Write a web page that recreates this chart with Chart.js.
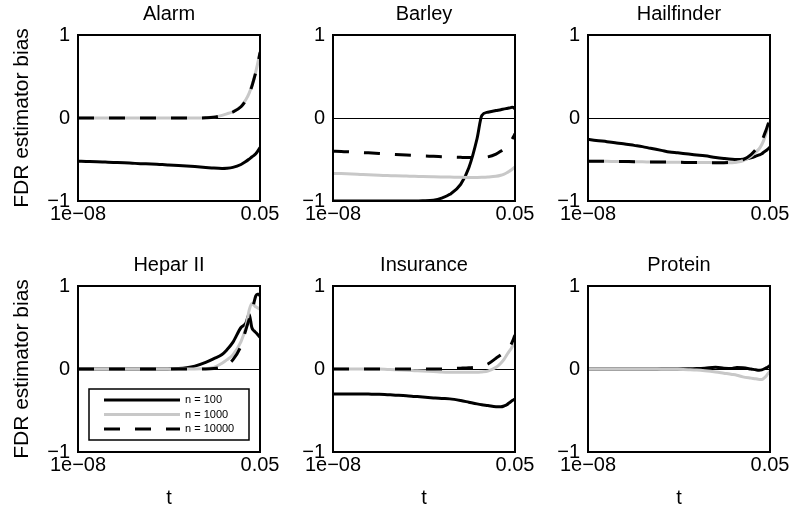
<!DOCTYPE html>
<html><head><meta charset="utf-8">
<script src="https://cdn.jsdelivr.net/npm/chart.js@4/dist/chart.umd.min.js"></script>
<style>
html,body{margin:0;padding:0;background:#fff;}
#wrap{position:relative;width:795px;height:518px;overflow:hidden;background:#fff;}
canvas{position:absolute;}
</style></head><body><div id="wrap"></div>
<script>
// ---- data ----
const tValues = [1e-8, 2e-8, 5e-8, 1e-7, 2e-7, 5e-7, 1e-6, 2e-6, 5e-6, 1e-5, 2e-5, 5e-5, 1e-4, 2e-4, 5e-4, 1e-3, 2e-3, 3e-3, 5e-3, 0.01, 0.015, 0.02, 0.025, 0.03, 0.035, 0.04, 0.045, 0.05];
const seriesLabels = ['n = 100', 'n = 1000', 'n = 10000'];
const panelTitles = ['Alarm', 'Barley', 'Hailfinder', 'Hepar II', 'Insurance', 'Protein'];
const xTickValues = [1e-8, 0.05];
const xTickLabels = ['1e\u221208', '0.05'];
const yTickValues = [-1, 0, 1];
const yTickLabels = ['\u22121', '0', '1'];

const alarmN100   = [-0.52,-0.523,-0.527,-0.531,-0.535,-0.54,-0.545,-0.55,-0.555,-0.56,-0.565,-0.572,-0.578,-0.585,-0.595,-0.603,-0.607,-0.605,-0.595,-0.56,-0.525,-0.495,-0.47,-0.45,-0.43,-0.405,-0.38,-0.355];
const alarmN1000  = [0,0,0,0,0,0,0,0,0,0,0,0,0,0,0.004,0.012,0.032,0.05,0.075,0.14,0.22,0.3,0.39,0.48,0.56,0.64,0.72,0.8];
const alarmN10000 = [0,0,0,0,0,0,0,0,0,0,0,0,0,0,0.003,0.01,0.03,0.048,0.072,0.135,0.21,0.29,0.38,0.47,0.55,0.63,0.71,0.79];

const barleyN100   = [-1,-1,-1,-1,-1,-1,-1,-1,-1,-1,-0.998,-0.99,-0.965,-0.92,-0.8,-0.6,-0.25,0.03,0.07,0.09,0.1,0.11,0.115,0.12,0.125,0.13,0.125,0.11];
const barleyN1000  = [-0.668,-0.67,-0.675,-0.68,-0.685,-0.69,-0.693,-0.697,-0.7,-0.702,-0.705,-0.708,-0.71,-0.712,-0.715,-0.716,-0.716,-0.715,-0.712,-0.703,-0.69,-0.675,-0.66,-0.645,-0.63,-0.615,-0.6,-0.588];
const barleyN10000 = [-0.4,-0.403,-0.41,-0.415,-0.42,-0.428,-0.435,-0.44,-0.447,-0.452,-0.457,-0.462,-0.466,-0.47,-0.474,-0.476,-0.476,-0.474,-0.468,-0.435,-0.4,-0.37,-0.34,-0.31,-0.28,-0.25,-0.22,-0.19];

const hailN100   = [-0.256,-0.27,-0.285,-0.298,-0.31,-0.33,-0.345,-0.365,-0.39,-0.41,-0.42,-0.435,-0.445,-0.455,-0.475,-0.487,-0.497,-0.5,-0.497,-0.478,-0.46,-0.445,-0.43,-0.41,-0.395,-0.38,-0.365,-0.348];
const hailN1000  = [-0.52,-0.521,-0.522,-0.524,-0.525,-0.527,-0.528,-0.53,-0.532,-0.533,-0.534,-0.535,-0.536,-0.537,-0.538,-0.54,-0.538,-0.532,-0.515,-0.46,-0.41,-0.37,-0.32,-0.26,-0.2,-0.14,-0.09,-0.04];
const hailN10000 = [-0.52,-0.52,-0.522,-0.523,-0.525,-0.526,-0.528,-0.53,-0.531,-0.532,-0.534,-0.535,-0.536,-0.537,-0.538,-0.538,-0.535,-0.525,-0.505,-0.44,-0.38,-0.33,-0.28,-0.21,-0.155,-0.1,-0.05,0.01];

const heparN100   = [0,0,0,0,0,0,0,0,0,0,0,0.005,0.015,0.035,0.08,0.125,0.175,0.23,0.32,0.5,0.55,0.66,0.5,0.46,0.44,0.42,0.4,0.38];
const heparN1000  = [0,0,0,0,0,0,0,0,0,0,0,0,0,0,0.005,0.02,0.07,0.11,0.17,0.33,0.5,0.71,0.79,0.77,0.75,0.74,0.73,0.72];
const heparN10000 = [0,0,0,0,0,0,0,0,0,0,0,0,0,0,0,0.005,0.025,0.05,0.11,0.28,0.47,0.6,0.68,0.8,0.88,0.9,0.9,0.88];

const insN100   = [-0.3,-0.3,-0.3,-0.3,-0.302,-0.305,-0.31,-0.315,-0.322,-0.33,-0.338,-0.348,-0.355,-0.36,-0.38,-0.4,-0.42,-0.43,-0.44,-0.455,-0.455,-0.445,-0.43,-0.41,-0.395,-0.38,-0.37,-0.36];
const insN1000  = [0,0,0,0,0,0,-0.005,-0.01,-0.015,-0.02,-0.025,-0.03,-0.035,-0.038,-0.04,-0.04,-0.04,-0.035,-0.025,0.02,0.07,0.12,0.17,0.21,0.24,0.27,0.29,0.31];
const insN10000 = [0,0,0,0,0,0,0,0,0,0,0,0,0,0.005,0.01,0.015,0.025,0.035,0.06,0.13,0.17,0.2,0.23,0.26,0.29,0.33,0.37,0.41];

const protN100  = [0,0,0,0,0,0,0,0,0,0,0,0.002,0.005,0.01,0.02,0.01,0.005,0.018,0.015,0,-0.01,-0.015,-0.01,0,0.012,0.02,0.03,0.045];
const protN1000 = [0,0,0,0,0,0,0,0,-0.002,-0.003,-0.004,-0.008,-0.012,-0.02,-0.035,-0.05,-0.065,-0.075,-0.095,-0.11,-0.118,-0.125,-0.125,-0.11,-0.09,-0.065,-0.045,-0.025];

const panelSeries = [
  [alarmN100, alarmN1000, alarmN10000],
  [barleyN100, barleyN1000, barleyN10000],
  [hailN100, hailN1000, hailN10000],
  [heparN100, heparN1000, heparN10000],
  [insN100, insN1000, insN10000],
  [protN100, protN1000]
];
const legendPanel = 3;

// ---- layout & style ----
Chart.defaults.font.family = "'Liberation Sans', Arial, Helvetica, sans-serif";
Chart.defaults.color = '#000';
const CANVAS_W = 285, ROW_H = [251, 267], ROW_TOP = [0, 251], COL_LEFT = [0, 255, 510];
const PLOT_BOTTOM = 201;
const styles = [
  {color: '#000000', dash: [], order: 3},
  {color: '#c8c8c8', dash: [], order: 2},
  {color: '#000000', dash: [16, 15], order: 1}
];

const frameBox = {
  id: 'frameBox',
  afterDatasetsDraw(chart) {
    const {ctx, chartArea: a} = chart;
    ctx.save();
    ctx.strokeStyle = '#000'; ctx.lineWidth = 2;
    ctx.strokeRect(a.left, a.top, a.right - a.left, a.bottom - a.top);
    ctx.restore();
  }
};
const insetLegend = {
  id: 'insetLegend',
  afterDraw(chart, args, opts) {
    if (!opts.show) return;
    const {ctx, chartArea: a} = chart;
    const bx = a.left + 11, by = a.top + 103, bw = 160, bh = 51;
    ctx.save();
    ctx.fillStyle = '#fff';
    ctx.fillRect(bx, by, bw, bh);
    ctx.strokeStyle = '#000'; ctx.lineWidth = 1.5;
    ctx.strokeRect(bx, by, bw, bh);
    const rows = [114, 128.5, 143];
    chart.data.datasets.forEach((ds, k) => {
      const y = a.top + rows[k];
      ctx.beginPath();
      ctx.setLineDash(ds.borderDash || []);
      ctx.strokeStyle = ds.borderColor; ctx.lineWidth = 3; ctx.lineCap = 'butt';
      ctx.moveTo(a.left + 26, y); ctx.lineTo(a.left + 102, y);
      ctx.stroke();
      ctx.setLineDash([]);
      ctx.fillStyle = '#000';
      ctx.font = "11px 'Liberation Sans', Arial, sans-serif";
      ctx.textBaseline = 'middle'; ctx.textAlign = 'left';
      ctx.fillText(ds.label, a.left + 107, y);
    });
    ctx.restore();
  }
};

const wrap = document.getElementById('wrap');
panelSeries.forEach((series, idx) => {
  const row = Math.floor(idx / 3), col = idx % 3;
  const H = ROW_H[row];
  const cv = document.createElement('canvas');
  cv.width = CANVAS_W; cv.height = H;
  cv.style.left = COL_LEFT[col] + 'px'; cv.style.top = ROW_TOP[row] + 'px';
  cv.style.width = CANVAS_W + 'px'; cv.style.height = H + 'px';
  wrap.appendChild(cv);
  const datasets = series.map((vals, k) => ({
    label: seriesLabels[k],
    data: tValues.map((t, i) => ({x: t, y: vals[i]})),
    borderColor: styles[k].color,
    borderWidth: 3,
    borderDash: styles[k].dash,
    borderCapStyle: 'butt',
    borderJoinStyle: 'round',
    order: styles[k].order,
    pointRadius: 0,
    fill: false,
    cubicInterpolationMode: 'monotone'
  }));
  new Chart(cv, {
    type: 'line',
    data: {datasets},
    options: {
      responsive: false, animation: false, events: [],
      layout: {padding: {left: 0, right: 25, top: 0, bottom: 0}},
      plugins: {
        legend: {display: false}, tooltip: {enabled: false},
        title: {display: true, text: panelTitles[idx], fullSize: false, color: '#000',
                font: {size: 20, weight: 'normal'}, padding: {top: 2, bottom: 9}},
        insetLegend: {show: idx === legendPanel}
      },
      scales: {
        x: {
          type: 'logarithmic', min: xTickValues[0], max: xTickValues[1],
          afterBuildTicks(s) { s.ticks = xTickValues.map(v => ({value: v})); },
          afterFit(s) { s.height = H - PLOT_BOTTOM; s.paddingLeft = 0; s.paddingRight = 0; },
          grid: {display: false, drawTicks: false}, border: {display: false},
          ticks: {color: '#000', font: {size: 20}, padding: 1.5, maxRotation: 0, autoSkip: false,
                  callback: (v, i) => xTickLabels[i]},
          title: {display: row === 1, text: 't', color: '#000', font: {size: 20}, padding: {top: 0, bottom: 8}}
        },
        y: {
          type: 'linear', min: -1, max: 1,
          afterBuildTicks(s) { s.ticks = yTickValues.map(v => ({value: v})); },
          afterFit(s) { s.width = 78; s.paddingTop = 0; s.paddingBottom = 0; },
          grid: {drawTicks: false, lineWidth: 1,
                 color: c => (c.tick && c.tick.value === 0) ? '#000' : 'rgba(0,0,0,0)'},
          border: {display: false},
          ticks: {color: '#000', font: {size: 20}, padding: 8, callback: (v, i) => yTickLabels[i]},
          title: {display: col === 0, text: 'FDR estimator bias', color: '#000', font: {size: 21},
                  padding: {top: 10, bottom: 0}}
        }
      }
    },
    plugins: [frameBox, insetLegend]
  });
});
</script>
</body></html>
